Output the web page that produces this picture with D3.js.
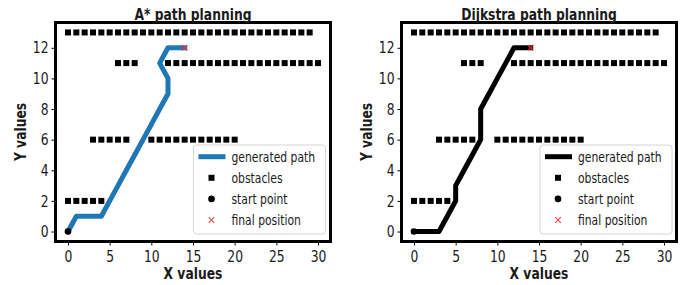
<!DOCTYPE html>
<html>
<head>
<meta charset="utf-8">
<script src="https://cdn.jsdelivr.net/npm/d3@7"></script>
<style>
  html, body { margin: 0; padding: 0; background: #fff; }
  svg text { font-family: "DejaVu Sans", sans-serif; fill: #1a1a1a; }
</style>
</head>
<body>
<svg id="chart" width="687" height="285"></svg>
<script>
// ---- data ----
const obstacleRow13X = d3.range(0, 30);            // y = 13
const obstacleRow11X = [6, 7, 8].concat(d3.range(12, 31)); // y = 11
const obstacleRow6X = [3, 4, 5, 6, 7].concat(d3.range(10, 21)); // y = 6
const obstacleRow2X = [0, 1, 2, 3, 4];             // y = 2
const obstacleRowsY = [13, 11, 6, 2];

const astarX = [0, 1, 2, 3, 4, 5, 6, 7, 8, 9, 10, 11, 12, 12, 11, 12, 13, 14];
const astarY = [0, 1, 1, 1, 1, 2, 3, 4, 5, 6, 7, 8, 9, 10, 11, 12, 12, 12];
const dijkstraX = [0, 1, 2, 3, 4, 5, 5, 6, 7, 8, 8, 8, 9, 10, 11, 12, 13, 14];
const dijkstraY = [0, 0, 0, 0, 1, 2, 3, 4, 5, 6, 7, 8, 9, 10, 11, 12, 12, 12];

const startPoint = [0, 0];
const finalPoint = [14, 12];

const xTicks = [0, 5, 10, 15, 20, 25, 30];
const yTicks = [0, 2, 4, 6, 8, 10, 12];
const legendLabels = ["generated path", "obstacles", "start point", "final position"];
const titles = ["A* path planning", "Dijkstra path planning"];

const obstacles = [];
[obstacleRow13X, obstacleRow11X, obstacleRow6X, obstacleRow2X].forEach((row, i) => {
  row.forEach(x => obstacles.push({ x: x, y: obstacleRowsY[i] }));
});

const svg = d3.select("#chart");
const SQ = 0.77; // narrow font factor

function squeeze(sel, f) {
  sel.each(function () {
    const L = this.getComputedTextLength();
    this.setAttribute("textLength", L * f);
    this.setAttribute("lengthAdjust", "spacingAndGlyphs");
  });
}

function panel(cfg) {
  const xs = d3.scaleLinear().domain([-1.5, 31.5]).range([cfg.x0, cfg.x1]);
  const ys = d3.scaleLinear().domain([-0.65, 13.65]).range([241.5, 22.5]);
  const g = svg.append("g");

  // axes
  const xAxis = d3.axisBottom(xs).tickValues(xTicks).tickSize(4).tickPadding(2).tickFormat(d3.format("d"));
  const yAxis = d3.axisLeft(ys).tickValues(yTicks).tickSize(4).tickPadding(3).tickFormat(d3.format("d"));
  const gx = g.append("g").attr("transform", `translate(0,${ys.range()[0]})`).call(xAxis);
  const gy = g.append("g").attr("transform", `translate(${cfg.x0},0)`).call(yAxis);
  [gx, gy].forEach(a => {
    a.select(".domain").remove();
    a.selectAll(".tick line").attr("stroke", "#000").attr("stroke-width", 1);
    a.selectAll(".tick text").style("font-size", "16px").style("font-family", "DejaVu Sans").attr("fill", "#1a1a1a");
  });
  gx.selectAll(".tick text").attr("dy", "0.9em");

  // path line
  const pts = cfg.px.map((x, i) => [x, cfg.py[i]]);
  g.append("path")
    .datum(pts)
    .attr("d", d3.line().x(d => xs(d[0])).y(d => ys(d[1])))
    .attr("fill", "none")
    .attr("stroke", cfg.color)
    .attr("stroke-width", 5)
    .attr("stroke-linejoin", "round")
    .attr("stroke-linecap", "square");

  // obstacles
  g.append("g").selectAll("rect").data(obstacles).join("rect")
    .attr("x", d => xs(d.x) - 3).attr("y", d => ys(d.y) - 3)
    .attr("width", 6).attr("height", 6).attr("fill", "#000");

  // start point
  g.append("circle").attr("cx", xs(startPoint[0])).attr("cy", ys(startPoint[1])).attr("r", 3.3).attr("fill", "#000");

  // final position
  const fx = xs(finalPoint[0]), fy = ys(finalPoint[1]);
  g.append("path").attr("d", `M${fx - 2.8},${fy - 2.8}L${fx + 2.8},${fy + 2.8}M${fx - 2.8},${fy + 2.8}L${fx + 2.8},${fy - 2.8}`)
    .attr("stroke", "#f03030").attr("stroke-width", 1.4).attr("fill", "none").attr("opacity", 0.85);

  // frame
  g.append("rect")
    .attr("x", cfg.x0).attr("y", ys.range()[1])
    .attr("width", cfg.x1 - cfg.x0).attr("height", ys.range()[0] - ys.range()[1])
    .attr("fill", "none").attr("stroke", "#000").attr("stroke-width", 3);

  // title
  const cx = (cfg.x0 + cfg.x1) / 2;
  g.append("text").attr("x", cx).attr("y", 20).attr("text-anchor", "middle")
    .style("font-size", "16px").style("font-weight", "bold").text(cfg.title).attr("class", "sq");

  // axis labels
  g.append("text").attr("x", cx).attr("y", 279).attr("text-anchor", "middle")
    .style("font-size", "16px").style("font-weight", "bold").text("X values").attr("class", "sq");
  g.append("text").attr("transform", `translate(${cfg.x0 - 30},132) rotate(-90)`).attr("text-anchor", "middle")
    .style("font-size", "16px").style("font-weight", "bold").text("Y values").attr("class", "sq");

  // legend
  const lx = cfg.legX, ly = 145;
  const lg = g.append("g");
  lg.append("rect").attr("x", lx).attr("y", ly).attr("width", 132).attr("height", 89).attr("rx", 3)
    .attr("fill", "#fff").attr("fill-opacity", 0.85).attr("stroke", "#d4d4d4").attr("stroke-width", 1);
  const rowY = i => 156.7 + i * 21.1;
  const mx = lx + 18;
  lg.append("line").attr("x1", lx + 5).attr("x2", lx + 32).attr("y1", rowY(0)).attr("y2", rowY(0))
    .attr("stroke", cfg.color).attr("stroke-width", 5);
  lg.append("rect").attr("x", mx - 3).attr("y", rowY(1) - 3).attr("width", 6).attr("height", 6).attr("fill", "#000");
  lg.append("circle").attr("cx", mx).attr("cy", rowY(2)).attr("r", 3.3).attr("fill", "#000");
  lg.append("path").attr("d", `M${mx - 2.8},${rowY(3) - 2.8}L${mx + 2.8},${rowY(3) + 2.8}M${mx - 2.8},${rowY(3) + 2.8}L${mx + 2.8},${rowY(3) - 2.8}`)
    .attr("stroke", "#f03030").attr("stroke-width", 1.2).attr("opacity", 0.85);
  lg.selectAll("text.leg").data(legendLabels).join("text")
    .attr("class", "leg sq")
    .attr("x", lx + 38).attr("y", (d, i) => rowY(i)).attr("dy", "0.35em")
    .style("font-size", "14px").text(d => d);

  squeeze(g.selectAll(".tick text"), SQ);
  squeeze(g.selectAll("text.sq"), SQ);
}

panel({ x0: 55.5, x1: 330.5, px: astarX, py: astarY, color: "#1f77b4", title: titles[0], legX: 193.5 });
panel({ x0: 401.5, x1: 676.5, px: dijkstraX, py: dijkstraY, color: "#000000", title: titles[1], legX: 540 });
</script>
</body>
</html>
